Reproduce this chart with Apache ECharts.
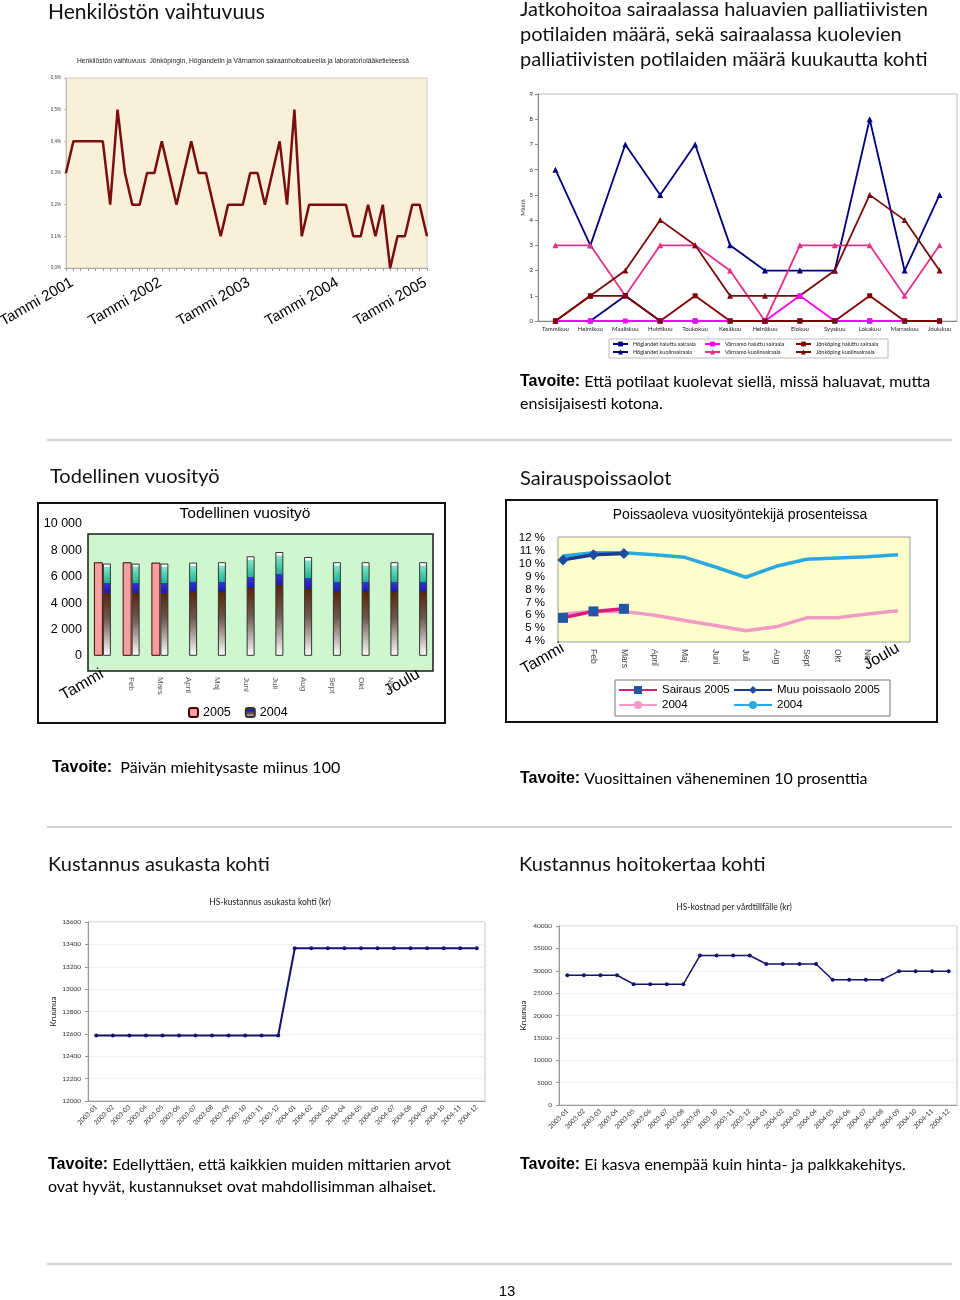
<!DOCTYPE html>
<html><head><meta charset="utf-8">
<script src="https://cdn.jsdelivr.net/npm/echarts@6.0.0/dist/echarts.min.js"></script>
<style>html,body{margin:0;padding:0;background:#fff}#c{width:960px;height:1300px}</style>
</head><body><div id="c"></div>
<script>
// ---------- Henkilöstön vaihtuvuus (%), monthly Jan 2001 – Feb 2005
const turnoverYears = [2001, 2002, 2003, 2004, 2005];
const turnoverTickLabels = ['Tammi 2001', 'Tammi 2002', 'Tammi 2003', 'Tammi 2004', 'Tammi 2005'];
const turnoverValues = [
  0.3, 0.4, 0.4, 0.4, 0.4, 0.4, 0.2, 0.5, 0.3, 0.2, 0.2, 0.3,
  0.3, 0.4, 0.3, 0.2, 0.3, 0.4, 0.3, 0.3, 0.2, 0.1, 0.2, 0.2,
  0.2, 0.3, 0.3, 0.2, 0.3, 0.4, 0.2, 0.5, 0.1, 0.2, 0.2, 0.2,
  0.2, 0.2, 0.2, 0.1, 0.1, 0.2, 0.1, 0.2, 0.0, 0.1, 0.1, 0.2,
  0.2, 0.1
];
const turnoverCategories = [];
turnoverYears.forEach(y => { for (let m = 1; m <= 12; m++) turnoverCategories.push(y + '-' + (m < 10 ? '0' : '') + m); });
turnoverCategories.length = turnoverValues.length;

// ---------- Palliatiiviset potilaat
const palliativeMonths = ['Tammikuu','Helmikuu','Maaliskuu','Huhtikuu','Toukokuu','Kesäkuu','Heinäkuu','Elokuu','Syyskuu','Lokakuu','Marraskuu','Joulukuu'];
const hoglandetWanted  = [0,0,1,0,0,0,0,0,0,0,0,0];
const varnamoWanted    = [0,0,0,0,0,0,0,1,0,0,0,0];
const jonkopingWanted  = [0,1,1,0,1,0,0,0,0,1,0,0];
const hoglandetDied    = [6,3,7,5,7,3,2,2,2,8,2,5];
const varnamoDied      = [3,3,1,3,3,2,0,3,3,3,1,3];
const jonkopingDied    = [0,1,2,4,3,1,1,1,2,5,4,2];

// ---------- Todellinen vuosityö
const workMonths = ['Tammi','Feb','Mars','April','Maj','Juni','Juli','Aug','Sept','Okt','Nov','Joulu'];
const work2005 = [7100, 7100, 7075, null, null, null, null, null, null, null, null, null];
const work2004 = [7000, 7000, 7000, 7075, 7100, 7550, 7875, 7500, 7100, 7100, 7100, 7100];

// ---------- Sairauspoissaolot (%)
const absenceMonths = ['Tammi','Feb','Mars','April','Maj','Juni','Juli','Aug','Sept','Okt','Nov','Joulu'];
const sick2005  = [5.8, 6.3, 6.5, null, null, null, null, null, null, null, null, null];
const other2005 = [10.3, 10.7, 10.8, null, null, null, null, null, null, null, null, null];
const sick2004  = [6.1, 6.3, 6.3, 6.0, 5.6, 5.2, 4.8, 5.1, 5.8, 5.8, 6.1, 6.35];
const other2004 = [10.6, 10.85, 10.85, 10.7, 10.5, 9.75, 8.95, 9.8, 10.35, 10.45, 10.55, 10.7];

// ---------- Kustannukset
const costMonths = ['2003-01','2003-02','2003-03','2003-04','2003-05','2003-06','2003-07','2003-08','2003-09','2003-10','2003-11','2003-12',
                    '2004-01','2004-02','2004-03','2004-04','2004-05','2004-06','2004-07','2004-08','2004-09','2004-10','2004-11','2004-12'];
const costPerResident = [12585,12585,12585,12585,12585,12585,12585,12585,12585,12585,12585,12585,
                         13365,13365,13365,13365,13365,13365,13365,13365,13365,13365,13365,13365];
const costPerCare = [29000,29000,29000,29000,27000,27000,27000,27000,33400,33400,33400,33400,
                     31500,31500,31500,31500,28000,28000,28000,28000,29900,29900,29900,29900];

const ARIAL = '"Liberation Sans", Arial, sans-serif';
const MYR = 'Lato, "Open Sans", sans-serif';
const thousands = v => String(v).replace(/\B(?=(\d{3})+(?!\d))/g, ' ');

const chart = echarts.init(document.getElementById('c'), null, {renderer: 'canvas'});

function txt(x, y, text, font, opts) {
  opts = opts || {};
  return {
    type: 'text', x: x, y: y, z: 100,
    style: Object.assign({
      text: text, font: font, fill: opts.fill || '#111',
      align: opts.align || 'left', textAlign: opts.align || 'left',
      verticalAlign: opts.va || 'middle', textVerticalAlign: opts.va || 'middle',
      lineHeight: opts.lineHeight
    }, opts.rich ? {rich: opts.rich} : {})
  };
}
const tavRich = {b: {font: 'bold 16px ' + ARIAL, fill: '#000', lineHeight: 22}};

const hiddenAxis = gi => ({gridIndex: gi, show: false});
const G = o => Object.assign({outerBoundsMode: 'none', containLabel: false}, o);

const option = {
  animation: false,
  backgroundColor: '#ffffff',
  grid: [
    G({left: 66, top: 78, width: 361, height: 190, show: true, backgroundColor: '#FAEFD9', borderColor: '#d2cabc', borderWidth: 1}),
    G({left: 538, top: 94, width: 419, height: 227, show: true, backgroundColor: '#fff', borderColor: '#bdbdbd', borderWidth: 1}),
    G({left: 88, top: 534, width: 345, height: 137, show: true, backgroundColor: '#CFF7CF', borderColor: '#1a1a1a', borderWidth: 1.5}),
    G({left: 88, top: 524, width: 345, height: 145}),
    G({left: 558, top: 537, width: 352, height: 105, show: true, backgroundColor: '#FFFFCC', borderColor: '#999', borderWidth: 1}),
    G({left: 563, top: 538, width: 335, height: 103}),
    G({left: 88, top: 922, width: 397, height: 179, show: true, backgroundColor: '#fff', borderColor: '#c4c4c4', borderWidth: 1}),
    G({left: 559, top: 926, width: 398, height: 179, show: true, backgroundColor: '#fff', borderColor: '#c4c4c4', borderWidth: 1})
  ],
  xAxis: [
    {gridIndex: 0, type: 'category', data: turnoverCategories, boundaryGap: false,
     axisLine: {lineStyle: {color: '#aaa'}}, axisTick: {interval: 0, length: 3, lineStyle: {color: '#999'}},
     axisLabel: {interval: (i) => i % 12 === 0, formatter: (v, i) => turnoverTickLabels[Math.round(i / 12)],
                 rotate: 30, fontSize: 15, fontFamily: ARIAL, color: '#000', margin: 17, padding: [0, -7, 0, 0]}},
    {gridIndex: 1, type: 'category', data: palliativeMonths,
     axisLine: {lineStyle: {color: '#888'}}, axisTick: {length: 3, lineStyle: {color: '#888'}},
     axisLabel: {interval: 0, fontSize: 6, fontFamily: MYR, color: '#222', margin: 5}},
    {gridIndex: 2, type: 'category', show: false},
    {gridIndex: 3, type: 'category', data: workMonths, position: 'bottom',
     axisLine: {show: false, onZero: false}, axisTick: {show: false},
     axisLabel: {interval: 0, rotate: 30, fontSize: 16, fontFamily: ARIAL, color: '#000', margin: 4,
                 formatter: (v, i) => (i === 0 || i === 11) ? v : ''}},
    {gridIndex: 3, type: 'category', data: workMonths, position: 'bottom',
     axisLine: {show: false, onZero: false}, axisTick: {show: false},
     axisLabel: {interval: 0, rotate: -90, fontSize: 8, fontFamily: ARIAL, color: '#555', margin: 8,
                 formatter: (v, i) => (i === 0 || i === 11) ? '' : v}},
    {gridIndex: 4, type: 'category', show: false},
    {gridIndex: 5, type: 'category', data: absenceMonths, boundaryGap: false, position: 'bottom',
     axisLine: {show: false, onZero: false}, axisTick: {show: false},
     axisLabel: {interval: 0, rotate: 30, fontSize: 16, fontFamily: ARIAL, color: '#000', margin: 6,
                 formatter: (v, i) => (i === 0 || i === 11) ? v : ''}},
    {gridIndex: 5, type: 'category', data: absenceMonths, boundaryGap: false, position: 'bottom',
     axisLine: {show: false, onZero: false}, axisTick: {show: false},
     axisLabel: {interval: 0, rotate: -90, fontSize: 8.5, fontFamily: ARIAL, color: '#444', margin: 8,
                 formatter: (v, i) => (i === 0 || i === 11) ? '' : v}},
    {gridIndex: 6, type: 'category', data: costMonths,
     axisLine: {lineStyle: {color: '#999'}}, axisTick: {length: 3, lineStyle: {color: '#999'}},
     axisLabel: {interval: 0, rotate: 45, fontSize: 6.5, fontFamily: MYR, color: '#333', margin: 5}},
    {gridIndex: 7, type: 'category', data: costMonths,
     axisLine: {lineStyle: {color: '#999'}}, axisTick: {length: 3, lineStyle: {color: '#999'}},
     axisLabel: {interval: 0, rotate: 45, fontSize: 6.5, fontFamily: MYR, color: '#333', margin: 5}}
  ],
  yAxis: [
    {gridIndex: 0, type: 'value', min: 0, max: 0.6, interval: 0.1, splitLine: {show: false},
     axisLine: {show: true, lineStyle: {color: '#bbb'}}, axisTick: {show: true, length: 2, lineStyle: {color: '#bbb'}},
     axisLabel: {fontSize: 4.5, fontFamily: ARIAL, color: '#444', margin: 5,
                 formatter: v => v.toFixed(1).replace('.', ',') + '%'}},
    {gridIndex: 1, type: 'value', min: 0, max: 9, interval: 1, splitLine: {show: false},
     axisLine: {show: true, lineStyle: {color: '#888'}}, axisTick: {show: true, length: 3, lineStyle: {color: '#888'}},
     axisLabel: {fontSize: 6, fontFamily: MYR, color: '#222', margin: 5},
     name: 'Määrä', nameLocation: 'middle', nameGap: 12, nameTextStyle: {fontSize: 6, fontFamily: MYR, color: '#333'}},
    hiddenAxis(2),
    {gridIndex: 3, type: 'value', min: -1000, max: 10000, interval: 1000, splitLine: {show: false},
     axisLine: {show: false}, axisTick: {show: false},
     axisLabel: {fontSize: 12.5, fontFamily: ARIAL, color: '#000', margin: 6,
                 formatter: v => (v >= 0 && v % 2000 === 0) ? thousands(v) : ''}},
    hiddenAxis(4),
    {gridIndex: 5, type: 'value', min: 4, max: 12, interval: 1, splitLine: {show: false},
     axisLine: {show: false}, axisTick: {show: false},
     axisLabel: {fontSize: 11.5, fontFamily: ARIAL, color: '#000', margin: 18, formatter: v => v + ' %'}},
    {gridIndex: 6, type: 'value', min: 12000, max: 13600, interval: 200,
     splitLine: {lineStyle: {color: '#f0f0f0'}},
     axisLine: {show: true, lineStyle: {color: '#999'}}, axisTick: {show: true, length: 3, lineStyle: {color: '#999'}},
     axisLabel: {fontSize: 6.5, fontFamily: MYR, color: '#333', margin: 7, formatter: v => String(v)},
     name: 'Kruunua', nameLocation: 'middle', nameGap: 31, nameTextStyle: {fontSize: 8, fontFamily: MYR, color: '#222'}},
    {gridIndex: 7, type: 'value', min: 0, max: 40000, interval: 5000,
     splitLine: {lineStyle: {color: '#f0f0f0'}},
     axisLine: {show: true, lineStyle: {color: '#999'}}, axisTick: {show: true, length: 3, lineStyle: {color: '#999'}},
     axisLabel: {fontSize: 6.5, fontFamily: MYR, color: '#333', margin: 7, formatter: v => String(v)},
     name: 'Kruunua', nameLocation: 'middle', nameGap: 32, nameTextStyle: {fontSize: 8, fontFamily: MYR, color: '#222'}}
  ],
  legend: [
    {data: ['Höglandet haluttu sairaala', 'Höglandet kuolinsairaala'], left: 612, top: 341, orient: 'vertical',
     itemGap: 2, itemWidth: 15, itemHeight: 6, padding: 0, textStyle: {fontSize: 5.5, fontFamily: MYR, color: '#222'}},
    {data: ['Värnamo haluttu sairaala', 'Värnamo kuolinsairaala'], left: 704, top: 341, orient: 'vertical',
     itemGap: 2, itemWidth: 15, itemHeight: 6, padding: 0, textStyle: {fontSize: 5.5, fontFamily: MYR, color: '#222'}},
    {data: ['Jönköping haluttu sairaala', 'Jönköping kuolinsairaala'], left: 795, top: 341, orient: 'vertical',
     itemGap: 2, itemWidth: 15, itemHeight: 6, padding: 0, textStyle: {fontSize: 5.5, fontFamily: MYR, color: '#222'}},
    {data: ['2005', '2004'], left: 188, top: 706, itemWidth: 9, itemHeight: 9, itemGap: 14, padding: 0,
     textStyle: {fontSize: 12.5, fontFamily: ARIAL, color: '#000'}},
    {data: ['Sairaus 2005', 'Sairaus 2004'], left: 618, top: 684, orient: 'vertical', itemGap: 3,
     itemWidth: 38, itemHeight: 10, padding: 0, textStyle: {fontSize: 11.5, fontFamily: ARIAL, color: '#000'},
     formatter: n => n.indexOf('2004') >= 0 ? '2004' : n},
    {data: ['Muu poissaolo 2005', 'Muu poissaolo 2004'], left: 733, top: 684, orient: 'vertical', itemGap: 3,
     itemWidth: 38, itemHeight: 10, padding: 0, textStyle: {fontSize: 11.5, fontFamily: ARIAL, color: '#000'},
     formatter: n => n.indexOf('2004') >= 0 ? '2004' : n}
  ],
  series: [
    {type: 'line', name: 'Henkilöstön vaihtuvuus', xAxisIndex: 0, yAxisIndex: 0, data: turnoverValues,
     showSymbol: false, symbol: 'none', lineStyle: {color: '#7A0E0E', width: 2.5}, itemStyle: {color: '#7A0E0E'}},

    {type: 'line', name: 'Höglandet kuolinsairaala', xAxisIndex: 1, yAxisIndex: 1, data: hoglandetDied,
     symbol: 'triangle', symbolSize: 6, lineStyle: {color: '#000080', width: 1.8}, itemStyle: {color: '#000080'}},
    {type: 'line', name: 'Värnamo kuolinsairaala', xAxisIndex: 1, yAxisIndex: 1, data: varnamoDied,
     symbol: 'triangle', symbolSize: 6, lineStyle: {color: '#E6308A', width: 1.8}, itemStyle: {color: '#E6308A'}},
    {type: 'line', name: 'Jönköping kuolinsairaala', xAxisIndex: 1, yAxisIndex: 1, data: jonkopingDied,
     symbol: 'triangle', symbolSize: 6, lineStyle: {color: '#7A0A0A', width: 1.8}, itemStyle: {color: '#7A0A0A'}},
    {type: 'line', name: 'Höglandet haluttu sairaala', xAxisIndex: 1, yAxisIndex: 1, data: hoglandetWanted,
     symbol: 'rect', symbolSize: 5, lineStyle: {color: '#000080', width: 1.8}, itemStyle: {color: '#000080'}},
    {type: 'line', name: 'Värnamo haluttu sairaala', xAxisIndex: 1, yAxisIndex: 1, data: varnamoWanted,
     symbol: 'rect', symbolSize: 5, lineStyle: {color: '#FF00FF', width: 1.8}, itemStyle: {color: '#FF00FF'}},
    {type: 'line', name: 'Jönköping haluttu sairaala', xAxisIndex: 1, yAxisIndex: 1, data: jonkopingWanted,
     symbol: 'rect', symbolSize: 5, lineStyle: {color: '#800000', width: 1.8}, itemStyle: {color: '#800000'}},

    {type: 'bar', name: '2005', xAxisIndex: 3, yAxisIndex: 3, data: work2005, barWidth: 9, barGap: '0%',
     itemStyle: {color: '#F5A0A0', borderColor: '#4a0000', borderWidth: 1}},
    {type: 'bar', name: '2004', xAxisIndex: 3, yAxisIndex: 3, data: work2004, barWidth: 8, barGap: '0%',
     itemStyle: {borderColor: '#333', borderWidth: 1,
       color: {type: 'linear', x: 0, y: 0, x2: 0, y2: 1, colorStops: [
         {offset: 0, color: '#ffffff'}, {offset: 0.03, color: '#ffffff'},
         {offset: 0.04, color: '#7fe6c6'}, {offset: 0.21, color: '#1fb596'},
         {offset: 0.211, color: '#3434e0'}, {offset: 0.32, color: '#1c1ca0'},
         {offset: 0.321, color: '#5a2608'}, {offset: 0.6, color: '#6e5a50'},
         {offset: 1, color: '#ffffff'}]}}},

    {type: 'line', name: 'Sairaus 2004', xAxisIndex: 6, yAxisIndex: 5, data: sick2004,
     symbol: 'none', showSymbol: false, lineStyle: {color: '#F29AC6', width: 3.5}, itemStyle: {color: '#F29AC6'}},
    {type: 'line', name: 'Muu poissaolo 2004', xAxisIndex: 6, yAxisIndex: 5, data: other2004,
     symbol: 'none', showSymbol: false, lineStyle: {color: '#2AA8E0', width: 3.5}, itemStyle: {color: '#2AA8E0'}},
    {type: 'line', name: 'Sairaus 2005', xAxisIndex: 6, yAxisIndex: 5, data: sick2005,
     symbol: 'rect', symbolSize: 10, lineStyle: {color: '#E0197D', width: 3.5}, itemStyle: {color: '#2456A6'}},
    {type: 'line', name: 'Muu poissaolo 2005', xAxisIndex: 6, yAxisIndex: 5, data: other2005,
     symbol: 'diamond', symbolSize: 11, lineStyle: {color: '#1B3C8C', width: 3.5}, itemStyle: {color: '#1F4C9E'}},

    {type: 'line', name: 'HS-kustannus asukasta kohti', xAxisIndex: 8, yAxisIndex: 6, data: costPerResident,
     symbol: 'circle', symbolSize: 4, lineStyle: {color: '#14146E', width: 2}, itemStyle: {color: '#14146E'}},
    {type: 'line', name: 'HS-kostnad per vårdtillfälle', xAxisIndex: 9, yAxisIndex: 7, data: costPerCare,
     symbol: 'circle', symbolSize: 4, lineStyle: {color: '#14146E', width: 1.5}, itemStyle: {color: '#14146E'}}
  ],
  graphic: [
    {type: 'line', shape: {x1: 47, y1: 440, x2: 952, y2: 440}, style: {stroke: '#c4c4c4', lineWidth: 1.5}},
    {type: 'line', shape: {x1: 47, y1: 827, x2: 952, y2: 827}, style: {stroke: '#c4c4c4', lineWidth: 1.5}},
    {type: 'line', shape: {x1: 47, y1: 1264, x2: 952, y2: 1264}, style: {stroke: '#c4c4c4', lineWidth: 1.5}},
    {type: 'rect', shape: {x: 38, y: 503, width: 407, height: 220}, style: {fill: 'none', stroke: '#111', lineWidth: 2}},
    {type: 'rect', shape: {x: 506, y: 500, width: 431, height: 222}, style: {fill: 'none', stroke: '#111', lineWidth: 2}},
    {type: 'rect', shape: {x: 609, y: 339, width: 279, height: 19}, style: {fill: 'none', stroke: '#aaa', lineWidth: 0.8}},
    {type: 'rect', shape: {x: 615, y: 680, width: 275, height: 36}, style: {fill: 'none', stroke: '#777', lineWidth: 1}},
    txt(48, 12, 'Henkilöstön vaihtuvuus', '21px ' + MYR),
    txt(520, -3, 'Jatkohoitoa sairaalassa haluavien palliatiivisten\npotilaiden määrä, sekä sairaalassa kuolevien\npalliatiivisten potilaiden määrä kuukautta kohti',
        '20px ' + MYR, {va: 'top', lineHeight: 25}),
    txt(50, 477, 'Todellinen vuosityö', '20px ' + MYR),
    txt(520, 479, 'Sairauspoissaolot', '20px ' + MYR),
    txt(48, 865, 'Kustannus asukasta kohti', '20px ' + MYR),
    txt(519, 865, 'Kustannus hoitokertaa kohti', '20px ' + MYR),
    txt(243, 61, 'Henkilöstön vaihtuvuus  Jönköpingin, Höglandetin ja Värnamon sairaanhoitoalueella ja laboratoriolääketieteessä',
        '6.7px ' + ARIAL, {align: 'center', fill: '#222'}),
    txt(245, 514, 'Todellinen vuosityö', '15.5px ' + ARIAL, {align: 'center', fill: '#000'}),
    txt(740, 515, 'Poissaoleva vuosityöntekijä prosenteissa', '14px ' + ARIAL, {align: 'center', fill: '#000'}),
    txt(270, 902, 'HS-kustannus asukasta kohti (kr)', '8.5px ' + MYR, {align: 'center', fill: '#222'}),
    txt(734, 907, 'HS-kostnad per vårdtillfälle (kr)', '8.5px ' + MYR, {align: 'center', fill: '#222'}),
    txt(520, 371, '{b|Tavoite:} Että potilaat kuolevat siellä, missä haluavat, mutta\nensisijaisesti kotona.',
        '16px ' + MYR, {va: 'top', lineHeight: 22, fill: '#000', rich: tavRich}),
    txt(52, 768, '{b|Tavoite:}  Päivän miehitysaste miinus 100', '16px ' + MYR, {fill: '#000', rich: tavRich}),
    txt(520, 779, '{b|Tavoite:} Vuosittainen väheneminen 10 prosenttia', '16px ' + MYR, {fill: '#000', rich: tavRich}),
    txt(48, 1154, '{b|Tavoite:} Edellyttäen, että kaikkien muiden mittarien arvot\novat hyvät, kustannukset ovat mahdollisimman alhaiset.',
        '16px ' + MYR, {va: 'top', lineHeight: 22, fill: '#000', rich: tavRich}),
    txt(520, 1165, '{b|Tavoite:} Ei kasva enempää kuin hinta- ja palkkakehitys.', '16px ' + MYR, {fill: '#000', rich: tavRich}),
    txt(507, 1292, '13', '15px ' + ARIAL, {align: 'center', fill: '#000'})
  ]
};
chart.setOption(option);
</script>
</body></html>
